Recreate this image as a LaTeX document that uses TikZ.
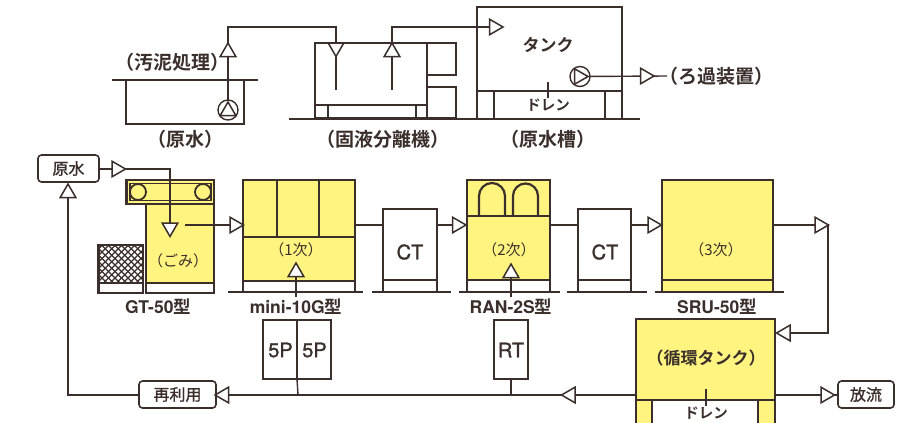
\documentclass[tikz,border=0pt]{standalone}
\usepackage{fontspec}
\usetikzlibrary{shapes.geometric}
\newfontfamily\cj[BoldFont={Noto Sans CJK JP Bold}]{Noto Sans CJK JP}
\newfontfamily\cjm[FakeBold=1.2]{Noto Sans CJK JP}
\newfontfamily\hv[BoldFont={TeX Gyre Heros Bold}]{TeX Gyre Heros}
\newfontfamily\hvm[FakeBold=1.2]{TeX Gyre Heros}
\definecolor{ink}{HTML}{3A2F2B}
\definecolor{yel}{HTML}{FFF47F}
\tikzset{
  bsize/.style 2 args={minimum width=#1pt,minimum height=#2pt},
  box/.style={draw=ink,line width=2.2pt,inner sep=0pt,outer sep=0pt,anchor=north west,text=ink},
  ybox/.style={box,fill=yel},
  wbox/.style={box,fill=white},
  lbl/.style={box,draw=ink,line width=1.6pt,rounded corners=3.5pt,fill=white,anchor=center,font=\cjm\fontsize{16}{16}\selectfont},
  conn/.style={draw=ink,line width=1.4pt},
  heavy/.style={draw=ink,line width=2.2pt},
  ground/.style={draw=ink,line width=2.2pt},
  tri/.style={regular polygon,regular polygon sides=3,draw=ink,fill=white,line width=1.5pt,minimum size=18pt,inner sep=0pt,outer sep=0pt},
  tup/.style={tri},
  tdown/.style={tri,shape border rotate=180},
  tright/.style={tri,shape border rotate=-90},
  tleft/.style={tri,shape border rotate=90},
  txt/.style={text=ink,inner sep=0pt,font=\cj\bfseries\fontsize{19}{19}\selectfont},
  small/.style={text=ink,inner sep=0pt,font=\cj\fontsize{15}{15}\selectfont},
  drain/.style={text=ink,inner sep=0pt,font=\cj\bfseries\fontsize{14.5}{15}\selectfont},
  model/.style={text=ink,inner sep=0pt,font=\fontsize{17.5}{18}\selectfont\bfseries},
  unit/.style={text=ink,inner sep=0pt,font=\hvm\fontsize{20}{20}\selectfont},
  pumpc/.style={circle,draw=ink,fill=white,line width=1.4pt,minimum size=20pt,inner sep=0pt,outer sep=0pt},
  ptri/.style={tri,minimum size=15pt,line width=1.3pt},
}
\begin{document}
\begin{tikzpicture}[x=1pt,y=-1pt]
\clip (0,0) rectangle (897,423);
\fill[white] (0,0) rectangle (897,423);

% --- upper row
\node[wbox,bsize={118}{44}] (basin) at (126,80) {};
\draw[ground] (112,80) -- (258,80);
\node[wbox,bsize={112}{75}] (sep) at (315,43) {};
\node[wbox,bsize={29}{32}] (sepa) at (427,43) {};
\node[wbox,bsize={29}{31}] (sepb) at (427,87) {};
\draw[conn] (315,105) -- (427,105);
\draw[heavy] (328,105) -- (328,119) (416,105) -- (416,119);
\node[wbox,bsize={145}{84}] (tank) at (477,7) {};
\node[wbox,bsize={145}{28}] (tankb) at (477,91) {};
\draw[heavy] (494,91) -- (494,119) (605,91) -- (605,119);
\draw[ground] (289,119) -- (640,119);
\draw[conn] (548,82) -- (548,98);

\coordinate (a1) at (228,52);
\coordinate (a2) at (336,47.5);
\coordinate (a3) at (392,52);
\coordinate (a4) at (494,27);
\coordinate (a5) at (645,76);
\coordinate (p1) at (228,110);
\coordinate (p2) at (580,76.5);
\coordinate (k1) at (228,27);
\coordinate (k2) at (336,27);
\coordinate (k3) at (392,27);
\coordinate (e2) at (336,90);
\coordinate (e3) at (392,90);
\coordinate (e5) at (667,76);
\draw[conn] (p1) -- (k1) -- (k2) -- (e2);
\draw[conn] (e3) -- (k3) -- (a4);
\draw[conn] (p2) -- (e5);
\node[pumpc] (pump1) at (p1) {};
\node[pumpc] (pump2) at (p2) {};
\node[ptri,tup] (pt1) at (228,111) {};
\node[ptri,tright] (pt2) at (579,76.5) {};
\node[tup] (ta1) at (a1) {};
\node[tdown] (ta2) at (a2) {};
\node[tup] (ta3) at (a3) {};
\node[tright] (ta4) at (a4) {};
\node[tright] (ta5) at (a5) {};

\node[txt] (t1) at (172,62) {（汚泥処理）};
\node[txt] (t2) at (185,139) {（原水）};
\node[txt] (t3) at (383,139) {（固液分離機）};
\node[txt] (t4) at (548,139) {（原水槽）};
\node[txt,font=\cj\bfseries\fontsize{17}{17}\selectfont] (t5) at (548,45) {タンク};
\node[txt] (t6) at (716,76) {（ろ過装置）};
\node[drain] (t7) at (548,105) {ドレン};

% --- lower row: GT
\node[ybox,bsize={68}{79}] (gt) at (146,204) {};
\node[wbox,bsize={68}{10}] (gtb) at (146,283) {};
\node[wbox,bsize={44.5}{38}] (scr) at (98.5,245) {};
\node[wbox,bsize={44.5}{10}] (scrb) at (98.5,283) {};
\begin{scope}
  \clip (98.5,245) rectangle (143,283);
  \foreach \i in {-6,...,13} {
    \draw[ink,line width=1.2pt] (90+\i*6.5,240) -- (140+\i*6.5,290);
    \draw[ink,line width=1.2pt] (90+\i*6.5,290) -- (140+\i*6.5,240);
  }
\end{scope}
\draw[draw=ink,line width=2.2pt] (98.5,245) rectangle (143,283);
\node[ybox,bsize={87.5}{24}] (conv) at (126.5,180) {};
\draw[ink,line width=1.3pt] (130,183.5) rectangle (211,200.5);
\node[circle,draw=ink,fill=yel,line width=1.8pt,minimum size=16pt,inner sep=0pt] (r1) at (138,192) {};
\node[circle,draw=ink,fill=yel,line width=1.8pt,minimum size=16pt,inner sep=0pt] (r2) at (203,192) {};

% mini
\node[ybox,bsize={112}{101}] (mini) at (243,180) {};
\node[wbox,bsize={112}{11}] (minib) at (243,281) {};
\draw[heavy] (277,180) -- (277,237) (319,180) -- (319,237) (243,237) -- (355,237);
\draw[ground] (228,292) -- (363,292);
% CT1
\node[wbox,bsize={54}{71}] (ct1) at (383,209) {};
\node[wbox,bsize={54}{12}] (ct1b) at (383,280) {};
\draw[ground] (372,292) -- (451,292);
% RAN
\node[ybox,bsize={83}{100}] (ran) at (467,180) {};
\node[wbox,bsize={83}{12}] (ranb) at (467,280) {};
\draw[heavy] (467,216) -- (550,216);
\draw[heavy] (479,216) -- (479,196) arc[start angle=180,end angle=360,radius=13] -- (505,216);
\draw[heavy] (513,216) -- (513,196) arc[start angle=180,end angle=360,radius=12.5] -- (538,216);
\draw[ground] (459,292) -- (560,292);
% CT2
\node[wbox,bsize={53}{71}] (ct2) at (578,209) {};
\node[wbox,bsize={53}{12}] (ct2b) at (578,280) {};
\draw[ground] (567,292) -- (647,292);
% SRU
\node[ybox,bsize={111}{100}] (sru) at (662,180) {};
\node[ybox,bsize={111}{12}] (srub) at (662,280) {};
\draw[ground] (655,292) -- (784,292);
% tank
\node[ybox,bsize={139}{81}] (ctank) at (636,319) {};
\node[ybox,bsize={16}{40}] (legl) at (636,400) {};
\node[ybox,bsize={17}{40}] (legr) at (758,400) {};
% pumps
\node[wbox,bsize={68}{59}] (fivep) at (263,320) {};
\draw[heavy] (fivep.north) -- (fivep.south);
\node[wbox,bsize={34}{59}] (rt) at (494,320) {};

% labels boxes
\node[lbl,bsize={61}{27}] (src) at (68.5,168.5) {原水};
\node[lbl,bsize={77}{27}] (reuse) at (177.5,394.5) {再利用};
\node[lbl,bsize={56}{27}] (out) at (866,394.5) {放流};

% arrows centres
\coordinate (b1) at (116.5,169);
\coordinate (b2) at (170,227.5);
\coordinate (b3) at (234.5,225);
\coordinate (b4) at (457,225);
\coordinate (b5) at (652.5,225);
\coordinate (b6) at (819.5,225);
\coordinate (b7) at (785.5,333);
\coordinate (b8) at (570.5,395);
\coordinate (b9) at (224,395);
\coordinate (b10) at (825.5,395);
\coordinate (b11) at (68,193);
\coordinate (b12) at (296,272);
\coordinate (b13) at (511,273);
\coordinate (c1) at (170,169);
\coordinate (c2) at (185,225);
\coordinate (c3) at (828,225);
\coordinate (c4) at (828,333);
\coordinate (c5) at (68,395);
\coordinate (c6) at (296,297);
\coordinate (c7) at (511,297);
\coordinate (c8) at (298,395);
\coordinate (c9) at (511,395);

\draw[conn] (src.east |- b1) -- (c1) -- (b2);
\draw[conn] (c2) -- (b3);
\draw[conn] (mini.east |- b3) -- (ct1.west |- b3);
\draw[conn] (ct1.east |- b4) -- (b4);
\draw[conn] (ran.east |- b4) -- (ct2.west |- b4);
\draw[conn] (ct2.east |- b5) -- (b5);
\draw[conn] (sru.east |- b5) -- (c3) -- (c4) -- (b7);
\draw[conn] (ctank.west |- c9) -- (reuse.east |- c9);
\draw[conn] (reuse.west |- c5) -- (c5) -- (b11);
\draw[conn] (ctank.east |- b10) -- (out.west |- b10);
\draw[conn] (c8) -- (fivep.south);
\draw[conn] (c9) -- (rt.south);
\draw[conn] (b12) -- (c6);
\draw[conn] (b13) -- (c7);
\draw[conn] (706,389) -- (706,406);

\node[tright] (tb1) at (b1) {};
\node[tdown] (tb2) at (b2) {};
\node[tright] (tb3) at (b3) {};
\node[tright] (tb4) at (b4) {};
\node[tright] (tb5) at (b5) {};
\node[tright] (tb6) at (b6) {};
\node[tleft] (tb7) at (b7) {};
\node[tleft] (tb8) at (b8) {};
\node[tleft] (tb9) at (b9) {};
\node[tright] (tb10) at (b10) {};
\node[tup] (tb11) at (b11) {};
\node[tup] (tb12) at (b12) {};
\node[tup] (tb13) at (b13) {};

% texts
\node[small] (s1) at (178,261) {（ごみ）};
\node[small] (s2) at (296,250) {（1次）};
\node[small] (s3) at (509,250) {（2次）};
\node[small] (s4) at (716,250) {（3次）};
\node[drain] (s5) at (706,413) {ドレン};
\node[txt,font=\cj\bfseries\fontsize{17}{17}\selectfont] (s6) at (706,358) {（循環タンク）};
\node[model] (m1) at (158,307) {\hv GT-50\cj 型};
\node[model] (m2) at (296,307) {\hv mini-10G\cj 型};
\node[model] (m3) at (511,307) {\hv RAN-2S\cj 型};
\node[model] (m4) at (717,307) {\hv SRU-50\cj 型};
\node[unit] (u1) at (410,252) {CT};
\node[unit] (u2) at (605,252) {CT};
\node[unit] (u3) at (280.5,350) {5P};
\node[unit] (u4) at (314.5,350) {5P};
\node[unit] (u5) at (511,350) {RT};
\end{tikzpicture}
\end{document}
